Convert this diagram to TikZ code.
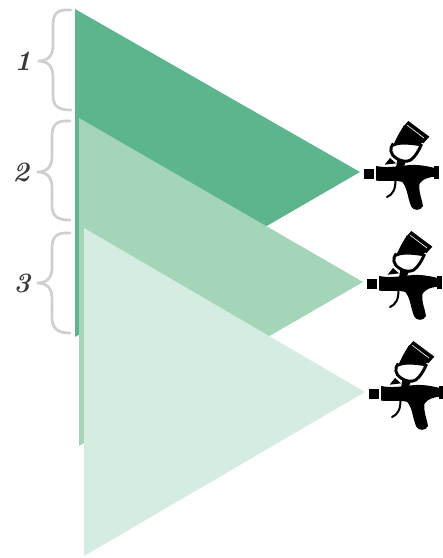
\documentclass[tikz,border=0pt]{standalone}
\definecolor{gA}{HTML}{5CB58C}
\definecolor{gB}{HTML}{A5D5B9}
\definecolor{gC}{HTML}{D5EDE1}
\definecolor{brc}{HTML}{CFCFCF}
\tikzset{
  bracepath/.style={draw=brc,line width=2pt,line cap=round,fill=none},
  numlabel/.style={font=\fontsize{21}{21}\selectfont\bfseries\itshape,text=black!78}
}
\newcommand{\sprayGun}[2]{%
 \begin{scope}[shift={(#1,#2)},x=0.25pt,y=-0.25pt]
  % cup
  \fill (205,123) -- (268,170) -- (250,190) -- (190,140) -- cycle;
  \fill (192,136) -- (250,182) -- (238,198) .. controls (200,192) and (175,192) .. (158,200)
        .. controls (168,175) and (180,155) .. (192,136) -- cycle;
  \draw[white,line width=0.5pt] (202,136) -- (252,174);
  \draw[line width=2.2pt] (160,190) .. controls (148,205) and (150,222) .. (168,234)
        .. controls (178,242) and (200,248) .. (212,240) .. controls (226,230) and (236,212) .. (245,192);
  \fill (150,234) -- (168,250) -- (134,254) -- cycle;
  \fill (172,238) -- (198,244) -- (190,264) -- (168,264) -- cycle;
  % nozzle
  \fill (73,266) rectangle (101,296);
  % body
  \fill (108,258) .. controls (140,264) and (160,260) .. (200,256)
        .. controls (230,252) and (260,258) .. (284,264) -- (284,290)
        .. controls (265,292) and (247,297) .. (238,312)
        .. controls (236,340) and (247,360) .. (249,378)
        .. controls (242,394) and (220,392) .. (214,380)
        .. controls (203,355) and (203,327) .. (188,307)
        .. controls (178,300) and (140,304) .. (108,302) -- cycle;
  \fill (282,257) -- (298,257) -- (298,298) -- (282,298) -- cycle;
  % trigger
  \draw[line width=1.5pt,line cap=round] (166,300) .. controls (168,325) and (158,345) .. (141,351);
 \end{scope}}
\begin{document}
\begin{tikzpicture}[x=0.75pt,y=-0.75pt]
\useasboundingbox (0,0) rectangle (443,558);
\fill[white] (0,0) rectangle (443,558);
\fill[gA] (75,9) -- (360,172) -- (75,337) -- cycle;
\fill[gB] (79,118) -- (363,282) -- (79,446) -- cycle;
\fill[gC] (84,228) -- (365,392) -- (84,556) -- cycle;
% braces
\draw[bracepath] (71,10) .. controls (56,9) and (53,14) .. (53,26) -- (53,45) .. controls (53,56) and (48,61) .. (38,61)
   .. controls (48,61) and (53,66) .. (53,77) -- (53,95) .. controls (53,106) and (58,110) .. (71,110);
\draw[bracepath] (70,121) .. controls (56,120) and (52,125) .. (52,137) -- (52,156) .. controls (52,167) and (47,172) .. (37,172)
   .. controls (47,172) and (52,177) .. (52,188) -- (52,205) .. controls (52,216) and (57,220) .. (70,220);
\draw[bracepath] (70,233) .. controls (56,232) and (52,237) .. (52,249) -- (52,267) .. controls (52,278) and (47,283) .. (37,283)
   .. controls (47,283) and (52,288) .. (52,299) -- (52,317) .. controls (52,328) and (57,333) .. (70,333);
\node[numlabel] (n1) at (23,61) {1};
\node[numlabel] (n2) at (21,172) {2};
\node[numlabel] (n3) at (22,283) {3};
\sprayGun{340}{80}
\sprayGun{343}{190}
\sprayGun{345}{300}
\end{tikzpicture}
\end{document}
